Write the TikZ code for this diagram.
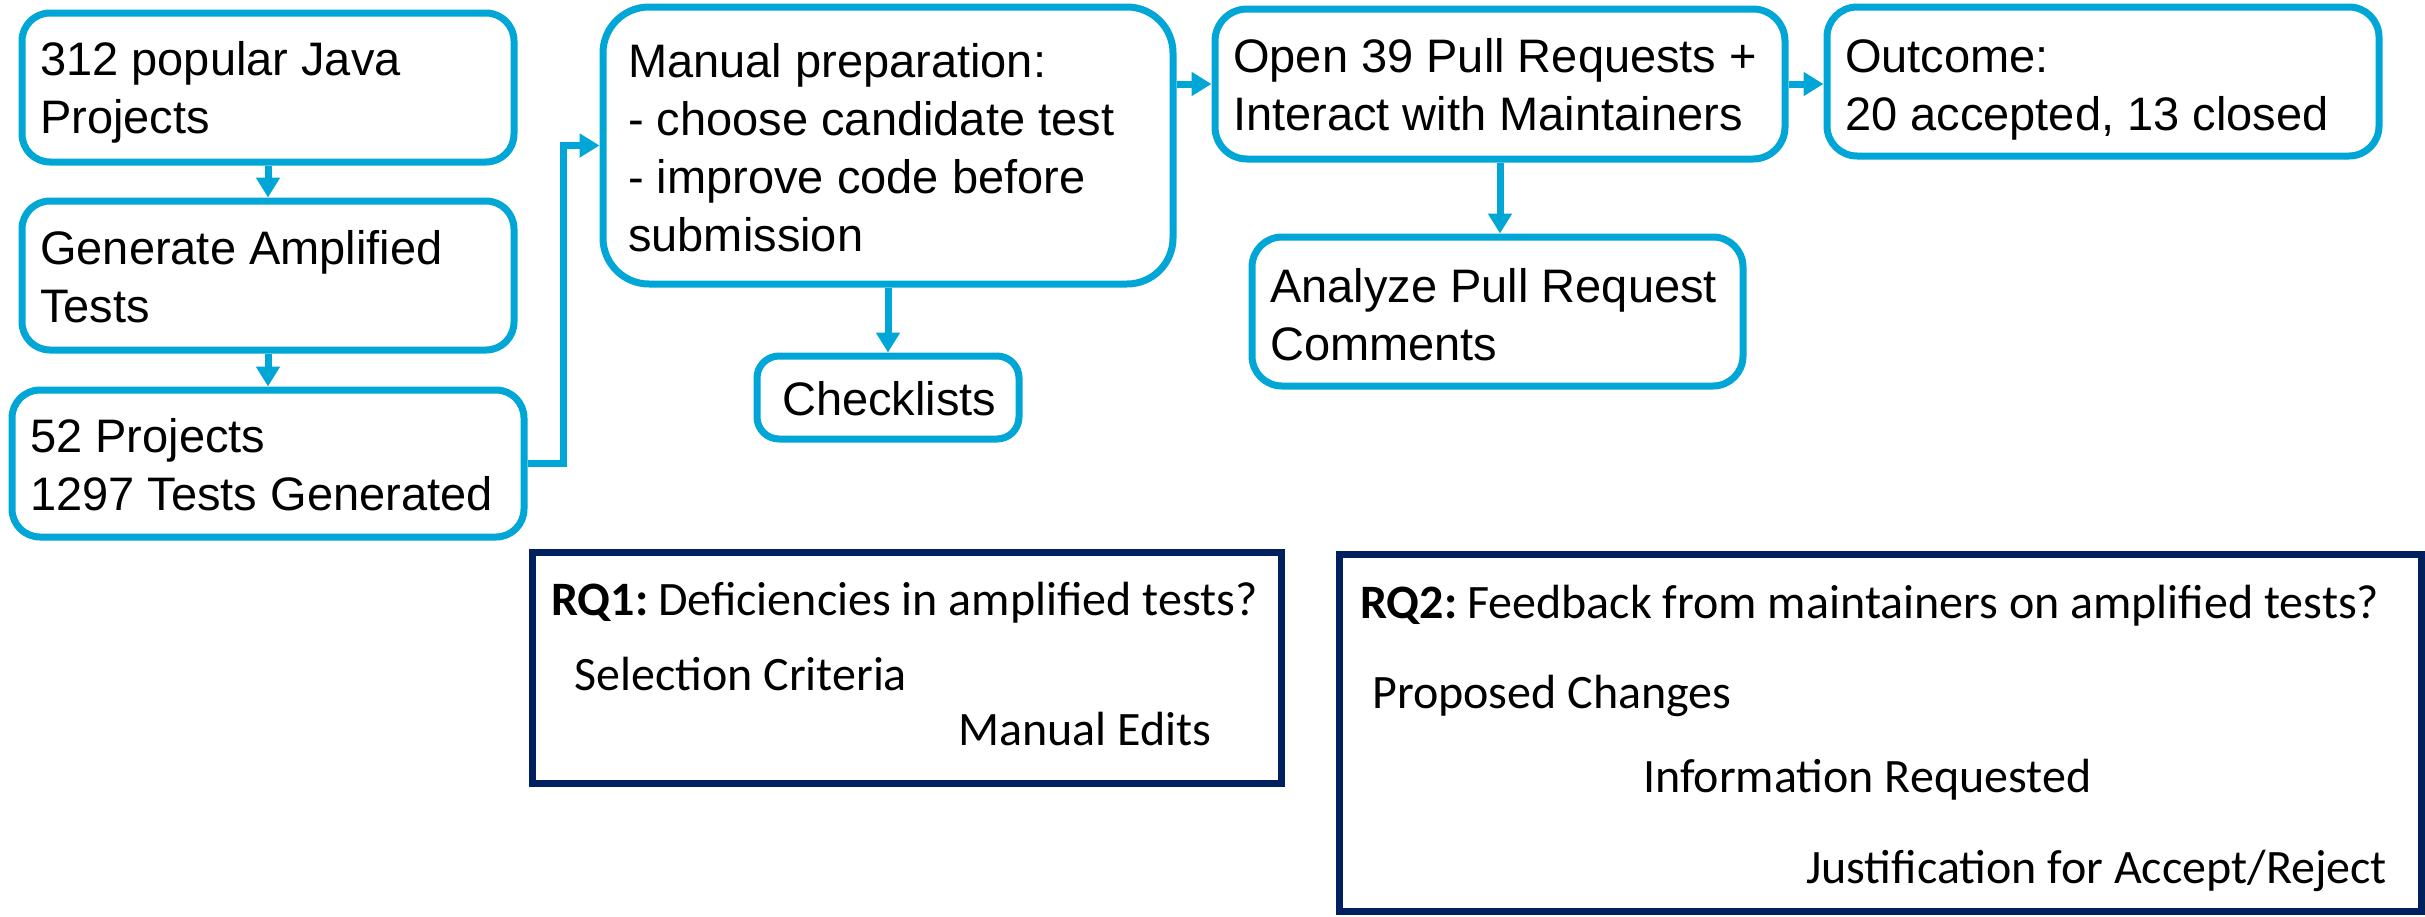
\documentclass[tikz,border=0pt]{standalone}
\usepackage{fontspec}
\setmainfont{Liberation Sans}
\newfontfamily\calibfont{Carlito}
\usetikzlibrary{arrows.meta}
\definecolor{flowblue}{RGB}{0,166,214}
\definecolor{rqnavy}{RGB}{0,32,96}
\newcommand{\lines}[1]{\begin{tabular}[t]{@{}l@{}}#1\end{tabular}}
\begin{document}
\begin{tikzpicture}[x=1pt,y=-1pt,
  cbox/.style={draw=flowblue, line width=7pt, fill=white, inner sep=0pt},
  rqbox/.style={draw=rqnavy, line width=7pt, fill=white, inner sep=0pt},
  flowtext/.style={inner sep=0pt, anchor=base west, font=\fontsize{47}{58}\selectfont, text=black},
  rqtext/.style={inner sep=0pt, anchor=base west, font=\calibfont\fontsize{48}{58}\selectfont, text=black},
  flowarrow/.style={draw=flowblue, line width=7pt, -{Triangle[width=23pt,length=20pt]}}
]
\useasboundingbox (0,0) rectangle (2425,916);

% boxes
\node[cbox, minimum width=492pt, minimum height=149pt, rounded corners=28pt] (b1) at (268,87.5) {};
\node[cbox, minimum width=492pt, minimum height=149pt, rounded corners=28pt] (b2) at (268,275.5) {};
\node[cbox, minimum width=512pt, minimum height=147pt, rounded corners=28pt] (b3) at (268,463.5) {};
\node[cbox, minimum width=570pt, minimum height=277pt, rounded corners=46pt] (b4) at (888,145.5) {};
\node[cbox, minimum width=262pt, minimum height=83pt, rounded corners=22pt] (ck) at (888,397.5) {};
\node[cbox, minimum width=570pt, minimum height=150pt, rounded corners=32pt] (b5) at (1500,84) {};
\node[cbox, minimum width=491pt, minimum height=149pt, rounded corners=30pt] (an) at (1497.5,311.5) {};
\node[cbox, minimum width=552pt, minimum height=149pt, rounded corners=30pt] (b6) at (2103,81.5) {};
\node[rqbox, minimum width=749pt, minimum height=231pt] (rq1) at (906.5,667.5) {};
\node[rqbox, minimum width=1082pt, minimum height=357pt] (rq2) at (1880,732.5) {};

% texts
\node[flowtext] (t1) at (40,75) {\lines{312 popular Java\\Projects}};
\node[flowtext] (t2) at (40,264) {\lines{Generate Amplified\\Tests}};
\node[flowtext] (t3) at (30,452) {\lines{52 Projects\\1297 Tests Generated}};
\node[flowtext] (t4) at (628,77) {\lines{Manual preparation:\\- choose candidate test\\- improve code before\\submission}};
\node[flowtext] (tck) at (782,415) {Checklists};
\node[flowtext] (t5) at (1233,72) {\lines{Open 39 Pull Requests +\\Interact with Maintainers}};
\node[flowtext] (tan) at (1270,302) {\lines{Analyze Pull Request\\Comments}};
\node[flowtext] (t6) at (1845,72) {\lines{Outcome:\\20 accepted, 13 closed}};

\node[rqtext] (q1) at (551,615) {\textbf{RQ1:}\hspace{10pt}Deficiencies in amplified tests?};
\node[rqtext] (q1a) at (574,690) {Selection Criteria};
\node[rqtext] (q1b) at (958,745) {Manual Edits};
\node[rqtext] (q2) at (1360,618) {\textbf{RQ2:}\hspace{10pt}Feedback from maintainers on amplified tests?};
\node[rqtext] (q2a) at (1372,708) {Proposed Changes};
\node[rqtext] (q2b) at (1643,792) {Information Requested};
\node[rqtext] (q2c) at (1806,883) {Justification for Accept/Reject};

% connectors
\coordinate (j1) at (563,300);
\draw[flowarrow] (b1.south) -- (b2.north);
\draw[flowarrow] (b2.south) -- (b3.north);
\draw[flowarrow] (b3.east) -- (b3.east -| j1) -- (j1 |- b4.west) -- (b4.west);
\draw[flowarrow] (b4.south) -- (ck.north);
\draw[flowarrow] (b4.east |- b5.west) -- (b5.west);
\draw[flowarrow] (b5.south) -- (b5.south |- an.north);
\draw[flowarrow] (b5.east) -- (b5.east -| b6.west);
\end{tikzpicture}
\end{document}
